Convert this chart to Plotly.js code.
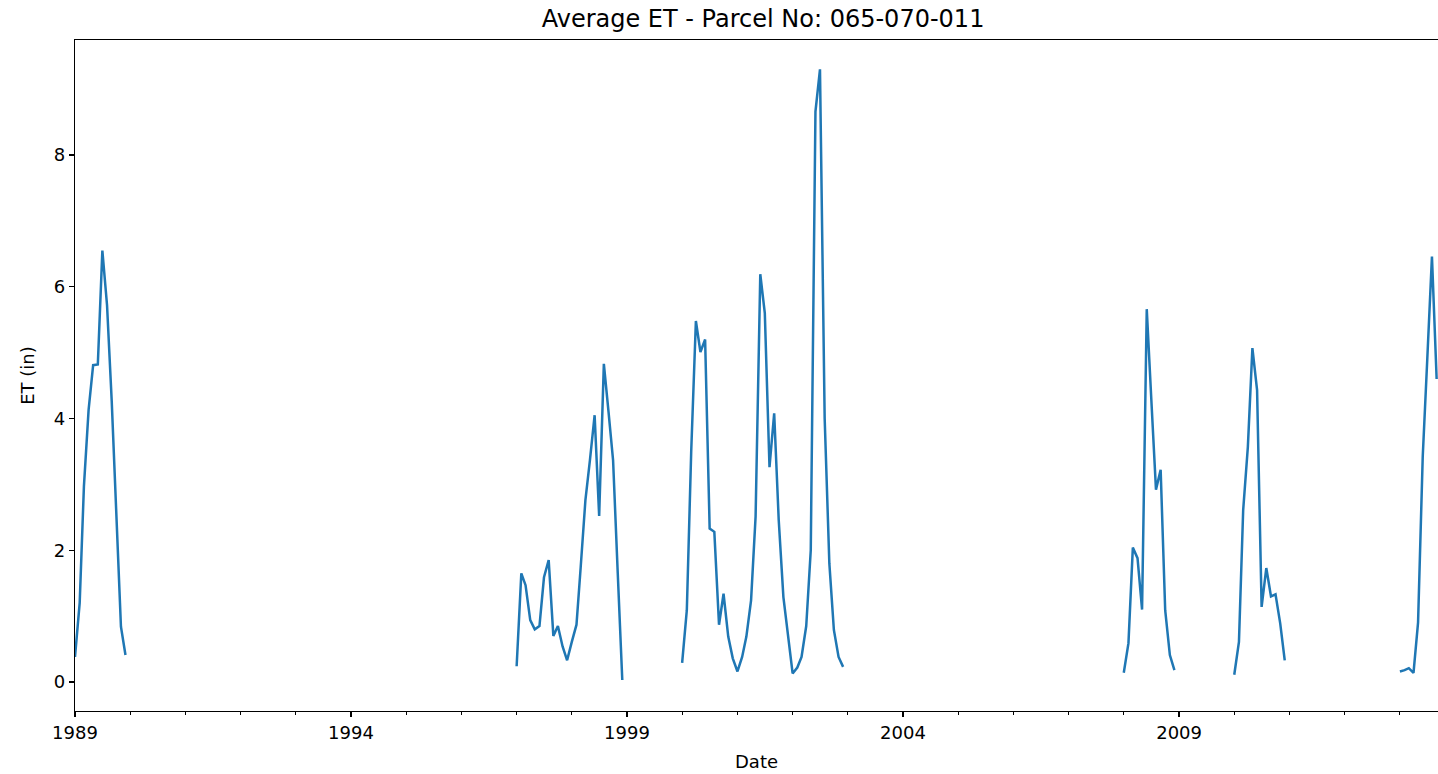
<!DOCTYPE html>
<html>
<head>
<meta charset="utf-8">
<script src="https://cdn.plot.ly/plotly-3.0.1.min.js"></script>
<style>html,body{margin:0;padding:0;overflow:hidden;background:#fff}</style>
</head>
<body>
<div id="chart" style="width:1438px;height:774px"></div>
<script>
// Monthly average ET (inches), January onward for each year shown
const et1989 = [0.38, 1.20, 2.97, 4.13, 4.81, 4.82, 6.55, 5.72, 4.26, 2.55, 0.84, 0.41];
const et1997 = [0.24, 1.65, 1.47, 0.94, 0.80, 0.85, 1.59, 1.85, 0.70, 0.85, 0.54, 0.33];
const et1998 = [0.61, 0.87, 1.75, 2.76, 3.37, 4.05, 2.52, 4.83, 4.10, 3.37, 1.65, 0.03];
const et2000 = [0.29, 1.09, 3.50, 5.48, 5.01, 5.20, 2.33, 2.28, 0.87, 1.34, 0.69, 0.36];
const et2001 = [0.16, 0.38, 0.69, 1.24, 2.51, 6.19, 5.60, 3.26, 4.08, 2.46, 1.29, 0.69];
const et2002 = [0.13, 0.22, 0.38, 0.85, 2.00, 8.66, 9.30, 4.00, 1.80, 0.79, 0.38, 0.23];
const et2008 = [0.14, 0.59, 2.04, 1.88, 1.10, 5.66, 4.30, 2.92, 3.22, 1.09, 0.41, 0.18];
const et2010 = [0.11, 0.61, 2.61, 3.57, 5.07, 4.43, 1.14, 1.73, 1.30, 1.33, 0.89, 0.33];
const et2013 = [0.16, 0.18, 0.21, 0.14, 0.90, 3.42, 4.90, 6.46, 4.60];

const segmentYears = [1989, 1997, 1998, 2000, 2001, 2002, 2008, 2010, 2013];
const segmentValues = [et1989, et1997, et1998, et2000, et2001, et2002, et2008, et2010, et2013];

const yTicks = [0, 2, 4, 6, 8];

const xs = [], ys = [];
let prevYear = null;
segmentYears.forEach((yr, i) => {
  if (prevYear !== null && yr !== prevYear + 1) { xs.push(null); ys.push(null); }
  segmentValues[i].forEach((v, m) => {
    const mm = String(m + 1).padStart(2, '0');
    xs.push(`${yr}-${mm}-01`);
    ys.push(v);
  });
  prevYear = yr;
});

const trace = {
  x: xs, y: ys, type: 'scatter', mode: 'lines', connectgaps: false,
  line: {color: '#1f77b4', width: 2.5}, hoverinfo: 'skip'
};

const axisCommon = {
  showline: true, linecolor: '#000', linewidth: 1.2,
  ticks: 'outside', ticklen: 5, tickwidth: 1.2, tickcolor: '#000',
  showgrid: false, zeroline: false,
  tickfont: {size: 18, color: '#000', family: 'DejaVu Sans'}
};

const layout = {
  width: 1438, height: 774,
  margin: {l: 75, r: 0, t: 40, b: 63},
  paper_bgcolor: '#fff', plot_bgcolor: '#fff',
  font: {family: 'DejaVu Sans', color: '#000'},
  showlegend: false,
  title: {
    text: 'Average ET - Parcel No: 065-070-011',
    xref: 'paper', x: 0.5048, xanchor: 'center',
    yref: 'container', y: 1 - 19 / 774, yanchor: 'middle',
    font: {size: 24, color: '#000', family: 'DejaVu Sans'}
  },
  xaxis: Object.assign({}, axisCommon, {
    type: 'date',
    range: ['1989-01-01', '2013-09-10'],
    tick0: '1989-01-01', dtick: 'M60', tickformat: '%Y',
    mirror: true,
    minor: {tick0: '1989-01-01', dtick: 'M12', ticks: 'outside', ticklen: 3, tickwidth: 1, tickcolor: '#000', showgrid: false},
    title: {text: 'Date', font: {size: 18, color: '#000'}, standoff: 13}
  }),
  yaxis: Object.assign({}, axisCommon, {
    range: [-0.44, 9.746],
    tickmode: 'array', tickvals: yTicks, ticktext: yTicks.map(String),
    title: {text: 'ET (in)', font: {size: 18, color: '#000'}, standoff: 14}
  })
};

Plotly.newPlot('chart', [trace], layout, {displayModeBar: false, staticPlot: true});
</script>
</body>
</html>
